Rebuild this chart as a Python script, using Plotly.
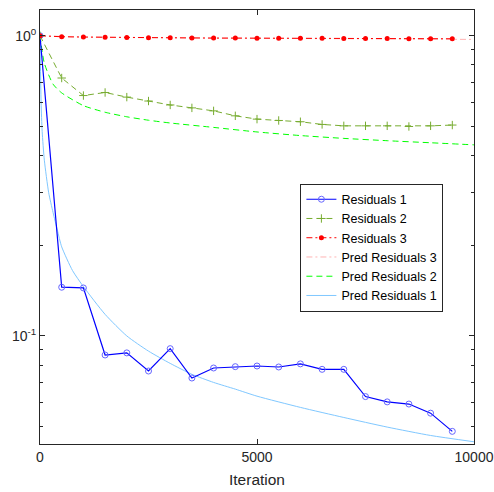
import plotly.graph_objects as go

# ---------------- data ----------------
iter_res = [0, 500, 1000, 1500, 2000, 2500, 3000, 3500, 4000, 4500, 5000,
            5500, 6000, 6500, 7000, 7500, 8000, 8500, 9000, 9500]
residuals_1 = [1.0, 0.1453, 0.1445, 0.0864, 0.0878, 0.0764, 0.0907, 0.0724, 0.0782, 0.0790, 0.0794,
               0.0788, 0.0807, 0.0774, 0.0774, 0.0628, 0.0603, 0.0593, 0.0553, 0.0481]
residuals_2 = [1.0, 0.723, 0.632, 0.647, 0.6245, 0.606, 0.588, 0.575, 0.562, 0.541, 0.5275,
               0.522, 0.517, 0.5064, 0.501, 0.501, 0.501, 0.4985, 0.501, 0.504]
residuals_3 = [1.0, 0.992, 0.990, 0.988, 0.986, 0.985, 0.984, 0.983, 0.982, 0.982, 0.981,
               0.981, 0.980, 0.980, 0.979, 0.979, 0.979, 0.978, 0.978, 0.977]

iter_pred1 = [0, 25, 50, 100, 200, 300, 400, 500, 750, 1000, 1500, 2000, 2500, 3000,
              3500, 4000, 4500, 5000, 6000, 7000, 8000, 9000, 10000]
pred_residuals_1 = [1.0, 0.60, 0.48, 0.385, 0.30, 0.258, 0.225, 0.198, 0.165, 0.146, 0.118, 0.100,
                    0.089, 0.081, 0.0745, 0.070, 0.0665, 0.063, 0.0578, 0.0535, 0.0497, 0.0466, 0.0444]

iter_pred2 = [0, 100, 300, 500, 1000, 1500, 2000, 2500, 3000, 4000, 5000,
              6000, 7000, 8000, 9000, 10000]
pred_residuals_2 = [1.0, 0.81, 0.69, 0.645, 0.585, 0.556, 0.537, 0.523, 0.512, 0.495, 0.478,
                    0.465, 0.455, 0.447, 0.440, 0.433]

iter_pred3 = [0, 1000, 2000, 3000, 4000, 5000, 6000, 7000, 8000, 9000, 10000]
pred_residuals_3 = [1.0, 0.990, 0.986, 0.984, 0.982, 0.980, 0.979, 0.977, 0.976, 0.974, 0.972]

x_ticks = [0, 5000, 10000]
y_ticks = [1, 0.1]
y_tick_labels = ["10<sup>0</sup>", "10<sup>-1</sup>"]
y_minor = [0.05, 0.06, 0.07, 0.08, 0.09, 0.2, 0.3, 0.4, 0.5, 0.6, 0.7, 0.8, 0.9]

# ---------------- figure ----------------
AX = "#262626"
FONT = "Liberation Sans, Arial, Helvetica, sans-serif"

fig = go.Figure()

fig.add_trace(go.Scatter(x=iter_pred3, y=pred_residuals_3, mode="lines", name="Pred Residuals 3",
                         line=dict(color="#ffb3b3", width=1, dash="6px,3px,2px,3px"), legendrank=4))
fig.add_trace(go.Scatter(x=iter_pred2, y=pred_residuals_2, mode="lines", name="Pred Residuals 2",
                         line=dict(color="#00ff00", width=1, dash="6px,4px", shape="spline", smoothing=0.6),
                         legendrank=5))
fig.add_trace(go.Scatter(x=iter_pred1, y=pred_residuals_1, mode="lines", name="Pred Residuals 1",
                         line=dict(color="#80c8ff", width=1, shape="spline", smoothing=0.6), legendrank=6))

fig.add_trace(go.Scatter(x=iter_res, y=residuals_1, mode="lines+markers", name="Residuals 1",
                         line=dict(color="#0000ff", width=1.2),
                         marker=dict(symbol="circle-open", size=6, color="#6666ff", line=dict(width=1)),
                         legendrank=1))
fig.add_trace(go.Scatter(x=iter_res, y=residuals_2, mode="lines+markers", name="Residuals 2",
                         line=dict(color="#77ac30", width=1, dash="6px,4px"),
                         marker=dict(symbol="cross-thin", size=6, color="#77ac30",
                                     line=dict(width=1, color="#77ac30")),
                         legendrank=2))
fig.add_trace(go.Scatter(x=iter_res, y=residuals_3, mode="lines+markers", name="Residuals 3",
                         line=dict(color="#ff0000", width=1, dash="6px,3px,2px,3px"),
                         marker=dict(symbol="circle", size=5, color="#ff0000"),
                         legendrank=3))

fig.update_layout(
    width=494, height=492,
    margin=dict(l=40, r=20, t=10, b=48),
    paper_bgcolor="white", plot_bgcolor="white",
    font=dict(family=FONT, size=14, color=AX),
    showlegend=True,
    legend=dict(x=0.60, y=0.60, xanchor="left", yanchor="top",
                bgcolor="white", bordercolor=AX, borderwidth=1,
                font=dict(size=12.5, color="#000000"), tracegroupgap=0, itemwidth=30),
)

fig.update_xaxes(range=[0, 10000], tickvals=x_ticks, ticktext=[str(v) for v in x_ticks],
                 ticks="inside", ticklen=5, tickcolor=AX, showline=True, linecolor=AX, linewidth=1,
                 mirror="ticks", showgrid=False, zeroline=False, automargin=False,
                 ticklabeloverflow="allow",
                 title=dict(text="Iteration", standoff=10, font=dict(size=15.5)))
fig.update_yaxes(type="log", range=[-1.36, 0.0857], tickvals=y_ticks, ticktext=y_tick_labels,
                 ticks="inside", ticklen=5, tickcolor=AX, showline=True, linecolor=AX, linewidth=1,
                 mirror="ticks", showgrid=False, zeroline=False, automargin=False,
                 ticklabeloverflow="allow",
                 minor=dict(tickvals=y_minor, ticks="inside", ticklen=3, tickcolor=AX, showgrid=False))

# remove the default page margin so the 494x492 figure fills the window exactly
fig.write_html("out.html",
               config={"displayModeBar": False},
               post_script="document.body.style.margin='0';"
                           "document.documentElement.style.overflow='hidden';")
